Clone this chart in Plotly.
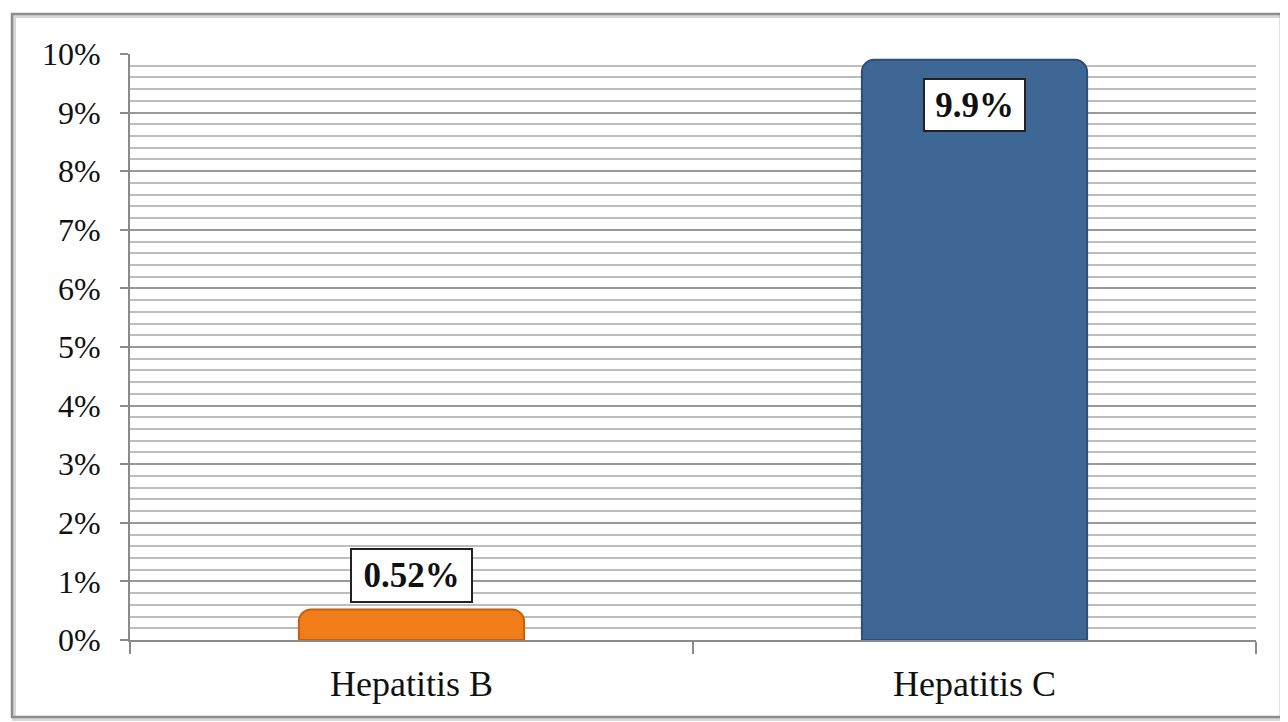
import plotly.graph_objects as go

categories = ["Hepatitis B", "Hepatitis C"]
values = [0.52, 9.9]
labels = ["0.52%", "9.9%"]
bar_colors = ["#F07D1A", "#3F6796"]
edge_colors = ["#C4600E", "#2C4E78"]

fig = go.Figure()
fig.add_trace(go.Bar(
    x=categories, y=values,
    marker=dict(color=bar_colors, line=dict(color=edge_colors, width=2), cornerradius=12),
    width=0.4,
    hoverinfo="skip",
))

lab_font = dict(family="Liberation Serif", size=35, color="#111111", weight="bold")
# data label annotations
fig.add_annotation(x=categories[0], y=values[0], text=labels[0], showarrow=False,
                   yanchor="bottom", yshift=7, bgcolor="white", bordercolor="#222222",
                   borderwidth=2, borderpad=3, width=113, height=45,
                   font=lab_font)
fig.add_annotation(x=categories[1], y=values[1], text=labels[1], showarrow=False,
                   yanchor="top", yshift=-18, bgcolor="white", bordercolor="#222222",
                   borderwidth=2, borderpad=3, width=93, height=44,
                   font=lab_font)

# outer frame with light shadow
fig.add_shape(type="rect", xref="paper", yref="paper",
              x0=-0.1030, x1=1.0245, y0=-0.1350, y1=1.0650,
              line=dict(color="#d8d8d8", width=4), fillcolor="rgba(0,0,0,0)", layer="below")
fig.add_shape(type="rect", xref="paper", yref="paper",
              x0=-0.1048, x1=1.0222, y0=-0.1314, y1=1.0683,
              line=dict(color="#8c8c8c", width=2.5), fillcolor="rgba(0,0,0,0)", layer="below")

fig.update_layout(
    width=1288, height=722,
    margin=dict(l=122, r=40, t=46, b=90),
    paper_bgcolor="white", plot_bgcolor="white",
    showlegend=False,
    bargap=0.6,
    font=dict(family="Liberation Serif", color="#111111"),
)
fig.update_yaxes(
    range=[0, 10], dtick=1, tick0=0, ticksuffix="%",
    showgrid=True, gridcolor="#999999", gridwidth=2,
    minor=dict(dtick=0.2, showgrid=True, gridcolor="#bdbdbd", gridwidth=2),
    showline=True, linecolor="#8a8a8a", linewidth=2,
    ticks="outside", ticklen=8, tickcolor="#8a8a8a", tickwidth=2,
    tickfont=dict(size=32, family="Liberation Serif", color="#111111"),
    ticklabelstandoff=13, zeroline=False, fixedrange=True,
)
fig.update_xaxes(
    showline=True, linecolor="#8a8a8a", linewidth=2,
    ticks="outside", tickson="boundaries", ticklen=12, tickcolor="#8a8a8a", tickwidth=2,
    tickfont=dict(size=36, family="Liberation Serif", color="#111111"),
    ticklabelstandoff=11, fixedrange=True,
)

fig.write_html("out.html")
